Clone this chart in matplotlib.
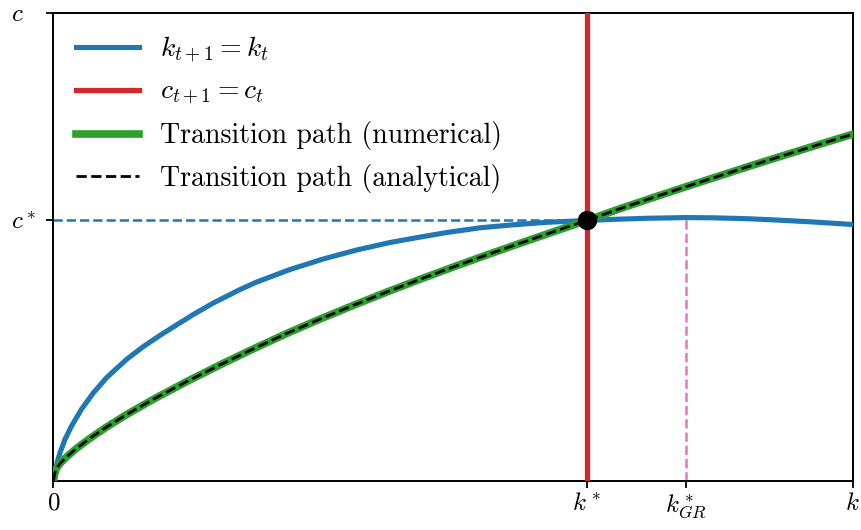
import numpy as np
import matplotlib
matplotlib.use("Agg")
from matplotlib import pyplot as plt

plt.rcParams['font.family'] = 'serif'
plt.rcParams['font.serif'] = ['cmr10', 'DejaVu Serif']
plt.rcParams['mathtext.fontset'] = 'cm'
plt.rcParams['axes.unicode_minus'] = False

#
# Values (k and c in arbitrary units, 0..10)
#
k_locus = [0, 0.004, 0.0125, 0.025, 0.048, 0.081, 0.144, 0.228, 0.353, 0.498, 0.666,
           0.916, 1.124, 1.333, 1.542, 1.749, 2.000, 2.334, 2.543, 2.959, 3.376,
           3.794, 4.211, 4.502, 4.920, 5.337, 5.753, 6.171, 6.672, 7.005, 7.422,
           7.914, 8.256, 8.674, 9.091, 9.507, 10.0]
c_locus = [0, 0.07, 0.15, 0.25, 0.41, 0.60, 0.89, 1.18, 1.54, 1.88, 2.21,
           2.60, 2.87, 3.11, 3.335, 3.555, 3.801, 4.089, 4.249, 4.516, 4.741,
           4.933, 5.093, 5.183, 5.306, 5.407, 5.471, 5.524, 5.563, 5.587, 5.610,
           5.625, 5.620, 5.601, 5.569, 5.531, 5.477]

k_path = [0, 0.0125, 0.031, 0.081, 0.165, 0.290, 0.457, 0.666, 0.916, 1.249,
          1.667, 2.083, 2.500, 2.918, 3.335, 3.751, 4.169, 4.586, 5.003, 5.420,
          5.837, 6.254, 6.672, 7.088, 7.505, 7.923, 8.340, 8.756, 9.174, 9.591, 10.0]
c_path_num = [0, 0.139, 0.254, 0.374, 0.517, 0.698, 0.912, 1.155, 1.420, 1.745,
              2.123, 2.479, 2.821, 3.150, 3.457, 3.750, 4.034, 4.307, 4.570, 4.826,
              5.076, 5.321, 5.563, 5.815, 6.054, 6.289, 6.519, 6.748, 6.972, 7.192, 7.405]
c_path_ana = list(c_path_num)

k_star = 6.672
c_star = 5.563
k_gr = 7.910
c_gr = 5.625
k_max = 10.0
c_max = 10.0

#
# Phase diagram
#
fig = plt.figure(figsize=(8.62, 5.30), dpi=100)
ax = fig.add_axes([53.5/862, 1 - 481/530, 799.2/862, 468.3/530])

ax.plot(k_locus, c_locus, color='tab:blue', lw=3.7, label=r'$k_{t+1}=k_t$', zorder=3)
ax.axvline(k_star, color='tab:red', lw=3.8, label=r'$c_{t+1}=c_t$', zorder=3)
ax.plot(k_path, c_path_num, color='tab:green', lw=5.5, label='Transition path (numerical)', zorder=4)
ax.plot(k_path, c_path_ana, color='black', ls='--', lw=2, label='Transition path (analytical)', zorder=5)
ax.plot([0, k_star], [c_star, c_star], color='tab:blue', ls='--', lw=1.8, zorder=2)
ax.plot([k_gr, k_gr], [0, c_gr], color='tab:pink', ls='--', lw=1.8, zorder=2)
ax.plot([k_star], [c_star], 'o', color='black', ms=13, zorder=6)

ax.set_xlim(0, k_max)
ax.set_ylim(0, c_max)
ax.set_xticks([0, k_star, k_gr, k_max])
ax.set_xticklabels([r'$0$', r'$k^*$', r'$k^*_{GR}$', r'$k$'], fontsize=18)
ax.set_yticks([c_star, c_max])
ax.set_yticklabels([r'$c^*$', r'$c$'], fontsize=18, ha='left')
ax.tick_params(length=5, width=1.3)
ax.tick_params(axis='y', pad=25.5)
for s in ax.spines.values():
    s.set_linewidth(1.4)

leg = ax.legend(loc='upper left', bbox_to_anchor=(0, 1), fontsize=20,
                frameon=False, handlelength=2.27, handletextpad=0.75,
                labelspacing=0.5, borderaxespad=0.4)

plt.savefig('out.png', dpi=100)
